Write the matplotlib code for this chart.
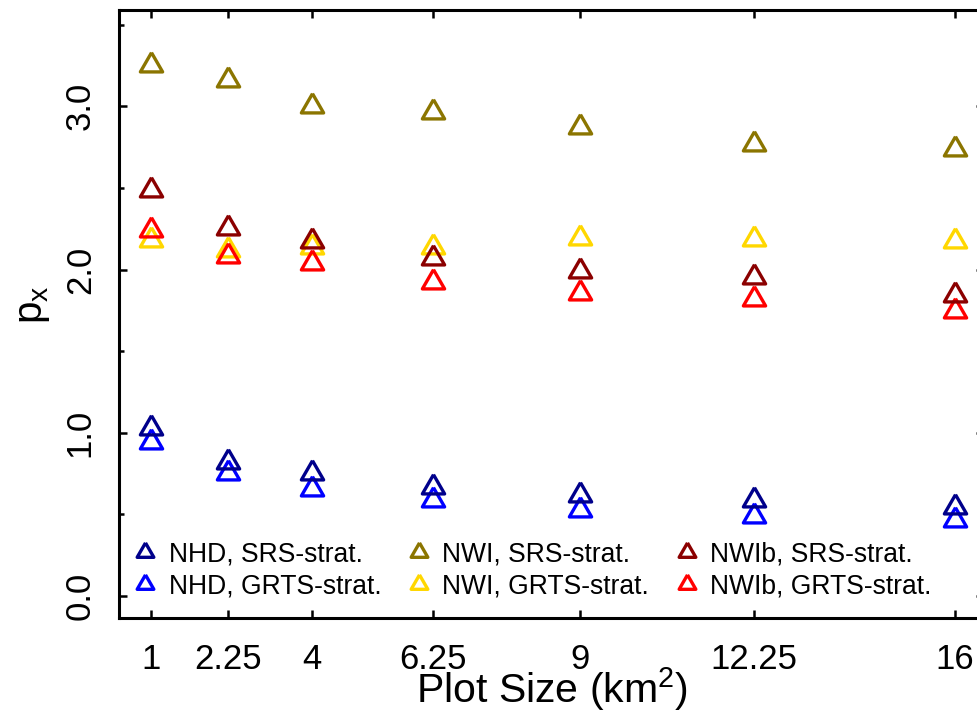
import matplotlib
matplotlib.use("Agg")
import matplotlib.pyplot as plt
from matplotlib.ticker import FixedLocator

plt.rcParams['font.family'] = ['Liberation Sans', 'DejaVu Sans']
plt.rcParams['mathtext.fontset'] = 'custom'
plt.rcParams['mathtext.rm'] = 'Liberation Sans'
plt.rcParams['mathtext.it'] = 'Liberation Sans'

# Data
x_pos = [1, 2.44, 4, 6.25, 9, 12.25, 16]
x_labels = ["1", "2.25", "4", "6.25", "9", "12.25", "16"]

nhd_srs = [1.026, 0.822, 0.755, 0.669, 0.618, 0.585, 0.548]
nhd_grts = [0.945, 0.755, 0.653, 0.591, 0.526, 0.487, 0.463]
nwi_srs = [3.252, 3.160, 3.001, 2.963, 2.871, 2.767, 2.736]
nwi_grts = [2.180, 2.119, 2.135, 2.140, 2.191, 2.190, 2.172]
nwib_srs = [2.487, 2.252, 2.176, 2.068, 1.993, 1.952, 1.841]
nwib_grts = [2.241, 2.082, 2.042, 1.925, 1.858, 1.817, 1.743]

series = [
    ("NHD, SRS-strat.", nhd_srs, "#00008B"),
    ("NHD, GRTS-strat.", nhd_grts, "#0000FF"),
    ("NWI, SRS-strat.", nwi_srs, "#8B7500"),
    ("NWI, GRTS-strat.", nwi_grts, "#FFD700"),
    ("NWIb, SRS-strat.", nwib_srs, "#8B0000"),
    ("NWIb, GRTS-strat.", nwib_grts, "#FF0000"),
]

tri = [(0, 0.6667), (-0.5774, -0.3333), (0.5774, -0.3333), (0, 0.6667)]

fig = plt.figure(figsize=(9.78, 7.19), dpi=100)
ax = fig.add_axes([119/978, 1-618/719, (984-119)/978, (618-10)/719])

order = [2, 3, 5, 4, 1, 0]
handles = {}
for i in order:
    lab, vals, col = series[i]
    h, = ax.plot(x_pos, vals, linestyle='none', marker=tri, markersize=18.5,
                 markerfacecolor='none', markeredgecolor=col, markeredgewidth=2.4,
                 label=lab)
    handles[i] = h

ax.set_xlim(0.4, 16.54)
ax.set_ylim(-0.135, 3.59)

ax.xaxis.set_major_locator(FixedLocator(x_pos))
ax.set_xticklabels(x_labels)
ax.yaxis.set_major_locator(FixedLocator([0, 1, 2, 3]))
ax.set_yticklabels(["0.0", "1.0", "2.0", "3.0"])
ax.yaxis.set_minor_locator(FixedLocator([0.5, 1.5, 2.5, 3.5]))

for s in ax.spines.values():
    s.set_linewidth(2.2)

ax.tick_params(axis='both', which='major', direction='in', length=6, width=1.8,
               top=True, right=True, labelsize=25)
ax.tick_params(axis='y', which='minor', direction='in', length=3.5, width=1.8, right=True)
ax.tick_params(axis='x', which='major', pad=18)
ax.tick_params(axis='y', which='major', pad=16)
for t in ax.get_yticklabels():
    t.set_rotation(90)
    t.set_va('center')

fig.text(552/978, 1-689/719, "Plot Size (km$^2$)", ha='center', va='center', fontsize=29.5)
fig.text(33/978, 1-305/719, "p$_\\mathregular{x}$", ha='center', va='center', fontsize=29, rotation=90)

leg_h = [handles[i] for i in range(6)]
leg = ax.legend(leg_h, [s[0] for s in series], ncol=3, loc='lower left',
                bbox_to_anchor=(0.015, 0.03), frameon=False, fontsize=19.1,
                markerscale=0.75, handlelength=1.0, handletextpad=0.38,
                columnspacing=0.92, labelspacing=0.24, borderpad=0, borderaxespad=0)

fig.savefig("out.png", dpi=100)
